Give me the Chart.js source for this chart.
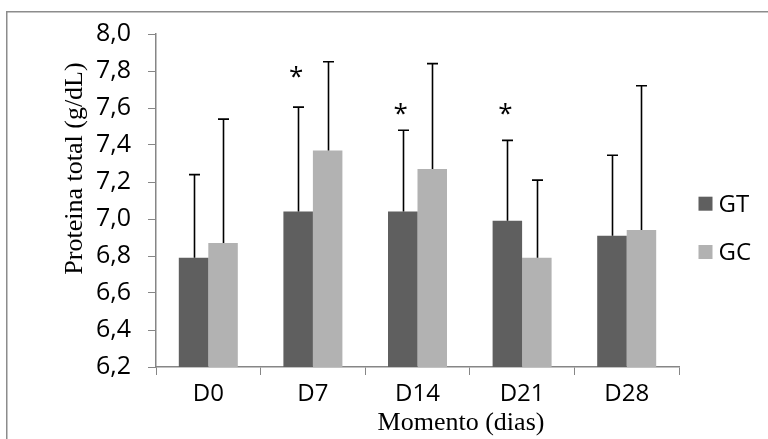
<!DOCTYPE html>
<html>
<head>
<meta charset="utf-8">
<script src="https://cdn.jsdelivr.net/npm/chart.js@4.4.1/dist/chart.umd.min.js"></script>
<style>
html,body{margin:0;padding:0;background:#fff;}
#wrap{width:768px;height:439px;position:relative;}
</style>
</head>
<body>
<div id="wrap"><canvas id="c" width="768" height="439"></canvas></div>
<script>
const categories = ['D0', 'D7', 'D14', 'D21', 'D28'];
const seriesNames = ['GT', 'GC'];
const gtMeans = [6.79, 7.04, 7.04, 6.99, 6.91];
const gtSD    = [0.45, 0.565, 0.44, 0.435, 0.435];
const gcMeans = [6.87, 7.37, 7.27, 6.79, 6.94];
const gcSD    = [0.67, 0.48, 0.57, 0.42, 0.78];
const sigMarks = ['', '*', '*', '*', ''];
const sigLevels = [null, 7.80, 7.60, 7.60, null];
const yTickLabels = ['6,2','6,4','6,6','6,8','7,0','7,2','7,4','7,6','7,8','8,0'];
const xTitle = 'Momento (dias)';
const yTitle = 'Proteina total (g/dL)';

const SANS = '"Open Sans", sans-serif';
const SERIF = '"Liberation Serif", "Times New Roman", serif';
const GREY = '#868686';

const extras = {
  id: 'extras',
  beforeDraw(chart) {
    const ctx = chart.ctx;
    ctx.save();
    ctx.strokeStyle = '#8c8c8c';
    ctx.lineWidth = 1.5;
    ctx.beginPath();
    ctx.moveTo(6.75, 460);
    ctx.lineTo(6.75, 11.75);
    ctx.lineTo(800, 11.75);
    ctx.stroke();
    ctx.restore();
  },
  afterDatasetsDraw(chart) {
    const ctx = chart.ctx;
    const y = chart.scales.y;
    const sds = [gtSD, gcSD];
    ctx.save();
    ctx.strokeStyle = '#000';
    ctx.lineWidth = 1.6;
    chart.data.datasets.forEach((ds, di) => {
      const meta = chart.getDatasetMeta(di);
      meta.data.forEach((bar, i) => {
        const top = y.getPixelForValue(ds.data[i] + sds[di][i]);
        const x = Math.round(bar.x) + 0.5;
        ctx.beginPath();
        ctx.moveTo(x, bar.y);
        ctx.lineTo(x, top);
        ctx.moveTo(x - 5.5, top);
        ctx.lineTo(x + 5.5, top);
        ctx.stroke();
      });
    });
    // significance marks
    const gtMeta = chart.getDatasetMeta(0);
    ctx.fillStyle = '#000';
    ctx.font = '26px ' + SANS;
    ctx.textAlign = 'center';
    ctx.textBaseline = 'alphabetic';
    sigMarks.forEach((m, i) => {
      if (!m) return;
      const py = y.getPixelForValue(sigLevels[i]);
      ctx.fillText(m, gtMeta.data[i].x - 2, py + 14);
    });
    ctx.restore();
  },
  afterDraw(chart) {
    const ctx = chart.ctx;
    ctx.save();
    // legend
    const colors = chart.data.datasets.map(d => d.backgroundColor);
    ctx.font = '24px ' + SANS;
    ctx.textAlign = 'left';
    ctx.textBaseline = 'alphabetic';
    seriesNames.forEach((n, i) => {
      const top = 196.7 + i * 48.3;
      ctx.fillStyle = colors[i];
      ctx.fillRect(698.5, top, 14, 14);
      ctx.fillStyle = '#000';
      ctx.fillText(n, 718.5, top + 15);
    });
    // axis titles
    ctx.font = '26px ' + SERIF;
    ctx.fillStyle = '#000';
    ctx.textAlign = 'center';
    ctx.fillText(xTitle, 461, 430);
    ctx.translate(82, 168.5);
    ctx.rotate(-Math.PI / 2);
    ctx.fillText(yTitle, 0, 0);
    ctx.restore();
  }
};

new Chart(document.getElementById('c'), {
  type: 'bar',
  data: {
    labels: categories,
    datasets: [
      { label: seriesNames[0], data: gtMeans, backgroundColor: '#5f5f5f', borderWidth: 0 },
      { label: seriesNames[1], data: gcMeans, backgroundColor: '#b2b2b2', borderWidth: 0 }
    ]
  },
  options: {
    responsive: false,
    animation: false,
    devicePixelRatio: 1,
    layout: { padding: { left: 0, top: 34, right: 89, bottom: 12 } },
    datasets: { bar: { categoryPercentage: 0.564, barPercentage: 1.0 } },
    plugins: { legend: { display: false }, tooltip: { enabled: false } },
    scales: {
      x: {
        afterFit(s) { s.height = 60; },
        grid: { display: true, drawOnChartArea: false, drawTicks: true, tickLength: 8, color: GREY, offset: true },
        border: { display: true, color: GREY, width: 1.5 },
        ticks: { color: '#000', font: { family: SANS, size: 24 }, padding: 5 }
      },
      y: {
        min: 6.2, max: 8.0,
        afterFit(s) { s.width = 156; },
        grid: { display: true, drawOnChartArea: false, drawTicks: true, tickLength: 8, color: GREY },
        border: { display: true, color: GREY, width: 1.5 },
        ticks: {
          stepSize: 0.2, color: '#000', font: { family: SANS, size: 25 }, padding: 17,
          callback: (v, i) => yTickLabels[i]
        }
      }
    }
  },
  plugins: [extras]
});
</script>
</body>
</html>
